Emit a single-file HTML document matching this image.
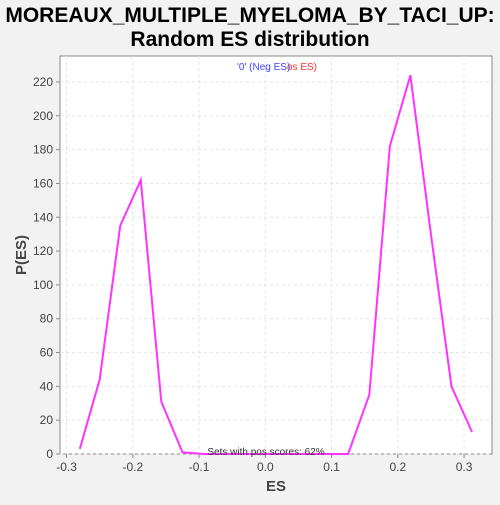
<!DOCTYPE html>
<html><head><meta charset="utf-8"><style>
body{margin:0;background:#f2f2f2;font-family:"Liberation Sans","DejaVu Sans",sans-serif}
svg text{font-family:"Liberation Sans","DejaVu Sans",sans-serif}
</style></head><body>
<svg id="c" width="500" height="500">
<rect width="500" height="500" fill="#f2f2f2"/>
<text x="250" y="22" font-size="21" font-weight="bold" text-anchor="middle" fill="#000">MOREAUX_MULTIPLE_MYELOMA_BY_TACI_UP:</text>
<text x="250" y="46" font-size="21" font-weight="bold" text-anchor="middle" fill="#000">Random ES distribution</text>
<rect x="60" y="56" width="432" height="398" fill="#fff" stroke="#888"/>
<g id="grid"></g><g id="axes"></g>
<text x="237" y="70" font-size="10" fill="#4040ff">'0' (Neg ES)</text>
<text x="287" y="70" font-size="10" fill="#ff3030">os ES)</text>
<path id="line" fill="none" stroke="#ff33ff" stroke-width="2"/>
<text x="266" y="455" font-size="10" fill="#333" text-anchor="middle">Sets with pos scores: 62%</text>
<text x="276" y="491" font-size="15" font-weight="bold" fill="#444" text-anchor="middle">ES</text>
<text transform="translate(26,255) rotate(-90)" font-size="15" font-weight="bold" fill="#444" text-anchor="middle">P(ES)</text>
</svg>
<script>
const xs=[-0.28,-0.25,-0.219,-0.188,-0.157,-0.125,-0.094,-0.063,-0.031,0,0.031,0.063,0.094,0.125,0.157,0.188,0.219,0.25,0.281,0.312];
const ys=[3,44,135,162,31,1,0,0,0,0,0,0,0,0,35,182,224,130,40,13];
const xTicks=[-0.3,-0.2,-0.1,0,0.1,0.2,0.3];
const xTickLabels=["-0.3","-0.2","-0.1","0.0","0.1","0.2","0.3"];
const yTicks=[0,20,40,60,80,100,120,140,160,180,200,220];
const X=v=>265.3+v*662.5, Y=v=>454-v*1.691;
const ns="http://www.w3.org/2000/svg";
const g=document.getElementById('grid'),a=document.getElementById('axes');
function mk(p,t,at){const e=document.createElementNS(ns,t);for(const k in at)e.setAttribute(k,at[k]);p.appendChild(e);return e;}
xTicks.forEach((t,i)=>{
 const l=mk(g,'line',{x1:X(t),x2:X(t),y1:56,y2:454,stroke:'#e4e4e4','stroke-dasharray':'3,3'});
 
 
 const tk=mk(a,'line',{x1:X(t),x2:X(t),y1:454,y2:458,stroke:'#888'});
 
 
 const tx=mk(a,'text',{x:X(t),y:471,'font-size':12,fill:'#444','text-anchor':'middle'});tx.textContent=xTickLabels[i];
 
 
});
yTicks.forEach(t=>{
 const l=mk(g,'line',{x1:60,x2:492,y1:Y(t),y2:Y(t),stroke:'#e4e4e4','stroke-dasharray':'3,3'});
 
 
 const tk=mk(a,'line',{x1:56,x2:60,y1:Y(t),y2:Y(t),stroke:'#888'});
 
 
 const tx=mk(a,'text',{x:53,y:Y(t)+4,'font-size':12,fill:'#444','text-anchor':'end'});tx.textContent=t;
 
 
});
document.getElementById('line').setAttribute('d',xs.map((x,i)=>(i?'L':'M')+X(x)+','+Y(ys[i])).join(''));
</script>
</body></html>
